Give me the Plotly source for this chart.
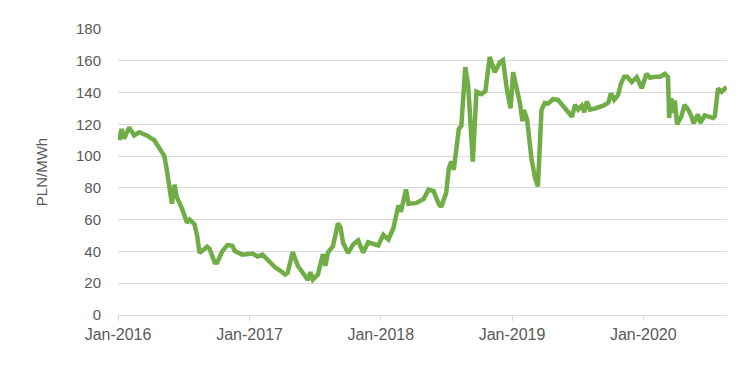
import plotly.graph_objects as go

dates = [
    "2016-01-04", "2016-01-11", "2016-01-18", "2016-02-01", "2016-02-15", "2016-02-29",
    "2016-03-21", "2016-04-04", "2016-04-11", "2016-04-25", "2016-05-09", "2016-05-16",
    "2016-05-23", "2016-05-30", "2016-06-06", "2016-06-13", "2016-06-27", "2016-07-11",
    "2016-07-18", "2016-08-01", "2016-08-08", "2016-08-15", "2016-09-05", "2016-09-12",
    "2016-09-26", "2016-10-03", "2016-10-17", "2016-10-31", "2016-11-14", "2016-11-21",
    "2016-12-12", "2017-01-09", "2017-01-23", "2017-02-06", "2017-02-20", "2017-03-13",
    "2017-03-27", "2017-04-10", "2017-04-17", "2017-05-01", "2017-05-15", "2017-05-29",
    "2017-06-12", "2017-06-19", "2017-06-26", "2017-07-10", "2017-07-24", "2017-07-31",
    "2017-08-07", "2017-08-21", "2017-09-04", "2017-09-11", "2017-09-18", "2017-10-02",
    "2017-10-16", "2017-10-30", "2017-11-13", "2017-11-27", "2017-12-25", "2018-01-08",
    "2018-01-22", "2018-02-05", "2018-02-19", "2018-02-26", "2018-03-12", "2018-03-19",
    "2018-04-09", "2018-04-30", "2018-05-14", "2018-05-28", "2018-06-11", "2018-06-18",
    "2018-07-02", "2018-07-09", "2018-07-16", "2018-07-23", "2018-07-30", "2018-08-06",
    "2018-08-13", "2018-08-24", "2018-09-01", "2018-09-14", "2018-09-24", "2018-10-08",
    "2018-10-19", "2018-10-31", "2018-11-14", "2018-11-28", "2018-12-07", "2018-12-18",
    "2018-12-28", "2019-01-04", "2019-01-14", "2019-01-23", "2019-01-30", "2019-02-03",
    "2019-02-12", "2019-02-24", "2019-03-06", "2019-03-14", "2019-03-24", "2019-04-02",
    "2019-04-11", "2019-04-25", "2019-05-09", "2019-05-23", "2019-06-06", "2019-06-17",
    "2019-06-25", "2019-07-04", "2019-07-14", "2019-07-21", "2019-07-28", "2019-08-06",
    "2019-08-24", "2019-09-12", "2019-09-26", "2019-10-03", "2019-10-12", "2019-10-23",
    "2019-10-31", "2019-11-09", "2019-11-17", "2019-11-30", "2019-12-14", "2019-12-28",
    "2020-01-10", "2020-01-20", "2020-02-03", "2020-02-17", "2020-03-01", "2020-03-10",
    "2020-03-13", "2020-03-19", "2020-03-24", "2020-03-29", "2020-04-04", "2020-04-16",
    "2020-04-25", "2020-05-05", "2020-05-14", "2020-05-20", "2020-06-01", "2020-06-08",
    "2020-06-20", "2020-07-02", "2020-07-13", "2020-07-18", "2020-07-27", "2020-08-06",
    "2020-08-15", "2020-08-20",
]

prices = [
    110, 117, 111, 118, 113, 115,
    113, 110.5, 110, 105, 100, 91,
    78, 70, 82, 74, 67, 58,
    60, 57, 50, 39, 43, 41.5,
    33, 33, 40, 44, 43.5, 40.3,
    38, 38.7, 36.8, 38, 34.8, 30,
    28, 25.5, 26.6, 39.7, 31, 27,
    22, 27, 22.3, 25.4, 38.3, 31,
    39.3, 43.4, 57.7, 55, 45.4, 39,
    44.4, 47, 39.3, 45.8, 43.8, 50.5,
    47.5, 54.6, 69, 65, 79, 70,
    70.4, 73, 79, 78, 70, 68,
    77, 92, 96.6, 91.4, 105, 117,
    119, 156, 144.6, 96.6, 140.5, 139,
    141, 162.4, 152.8, 159, 160.4, 141.5,
    130, 152.8, 142.6, 133.4, 122, 129,
    123, 98.6, 86.3, 81, 129, 133.4,
    133, 135.8, 135.4, 131.3, 128.2, 124.8,
    132.3, 129.3, 131.7, 127.6, 134.4, 129.3,
    130.3, 131.7, 133.7, 139.5, 135.4, 138.5,
    145.6, 150, 150, 146.6, 149.7, 142.6,
    151.8, 149.3, 150, 150, 151.8, 149.7,
    124, 136.4, 127.2, 135, 120, 125,
    132.3, 129.3, 125, 120.7, 126.2, 121,
    125.6, 124.8, 124, 125, 142.6, 140.5,
    142.6, 141.5,
]

y_title = "PLN/MWh"
tick_format = "%b-%Y"

fig = go.Figure()
fig.add_trace(go.Scatter(
    x=dates, y=prices, mode="lines",
    line=dict(color="#70AD47", width=4.5),
    showlegend=False, hoverinfo="x+y",
))

grid = "#D9D9D9"
font_col = "#595959"
# page body has an 8px default margin, so the figure is 8px smaller
fig.update_layout(
    width=742, height=357,
    margin=dict(l=110, r=23, t=14, b=50),
    paper_bgcolor="white", plot_bgcolor="white",
    font=dict(family="Liberation Sans, Arial, sans-serif", size=15, color=font_col),
    xaxis=dict(
        type="date",
        range=["2016-01-01", "2020-08-21"],
        dtick="M12", tick0="2016-01-01",
        tickformat=tick_format,
        showgrid=False,
        showline=True, linecolor=grid, linewidth=1,
        ticks="outside", ticklen=5, tickcolor=grid, tickwidth=1,
        tickfont=dict(size=16, color=font_col),
        zeroline=False,
    ),
    yaxis=dict(
        range=[0, 180], dtick=20,
        showgrid=True, gridcolor=grid, gridwidth=1,
        zeroline=False, showline=False,
        ticks="", ticklabelstandoff=16,
        tickfont=dict(size=15, color=font_col),
        title=dict(text=y_title, standoff=24, font=dict(size=15, color=font_col)),
    ),
)

fig.write_html("out.html")
